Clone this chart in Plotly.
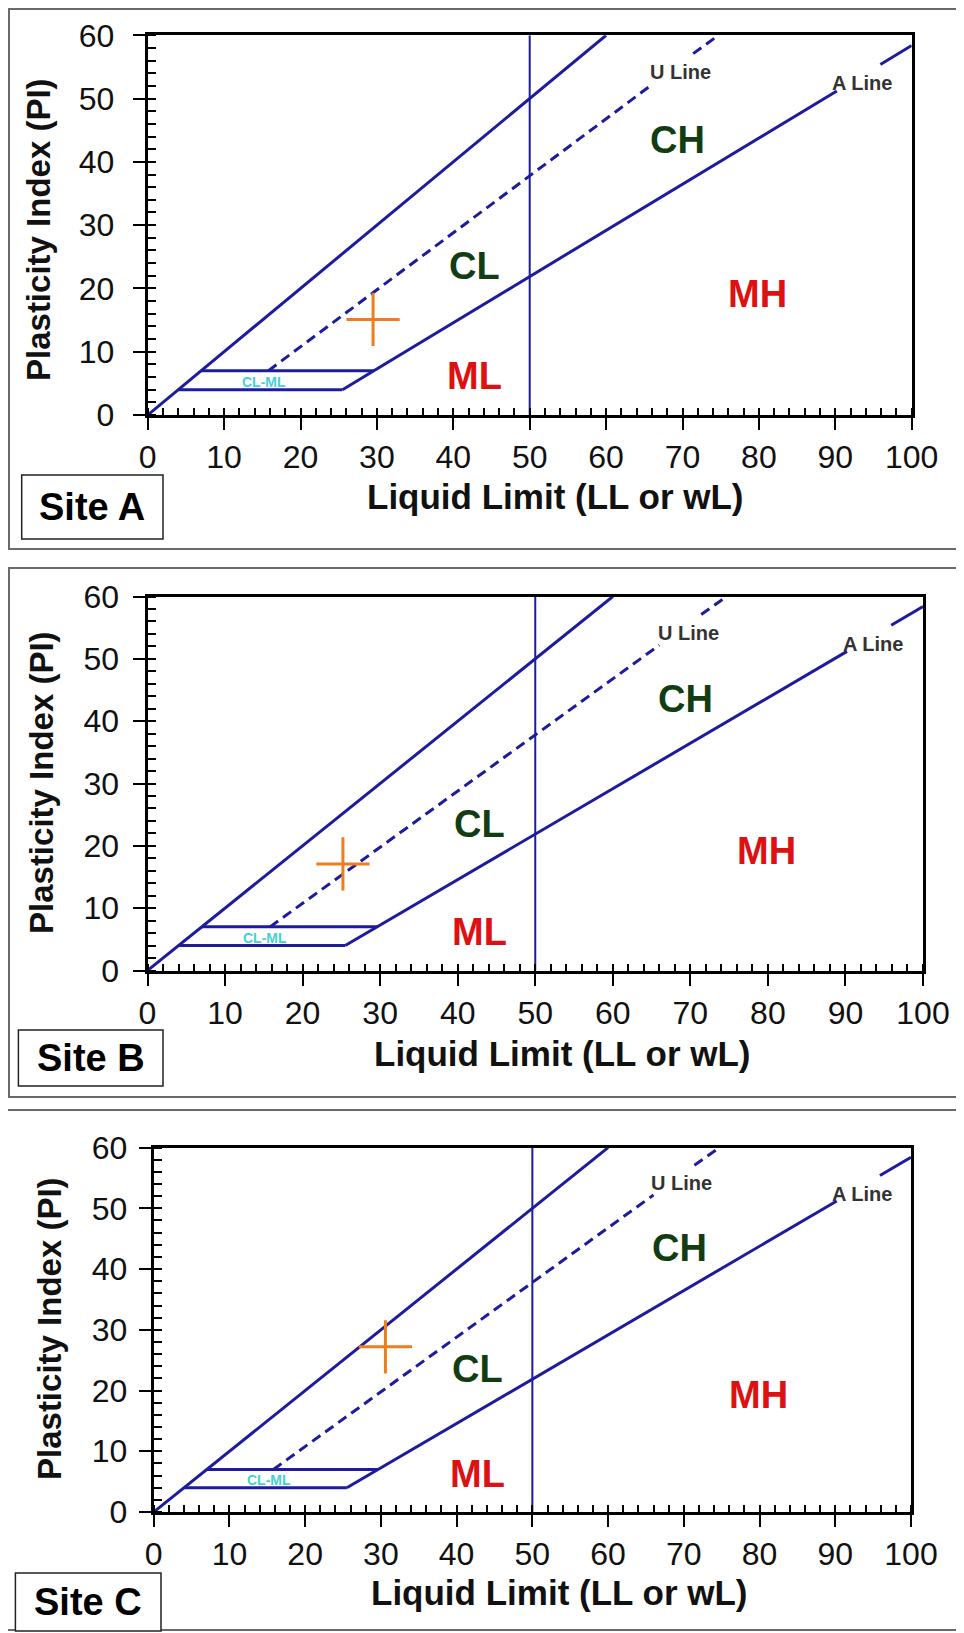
import plotly.graph_objects as go

# ---------------- data ----------------
SITES = ["Site A", "Site B", "Site C"]
SAMPLE_LL = [29.5, 25.2, 30.6]
SAMPLE_PI = [15.1, 17.1, 27.2]

LL_TICKS = [0, 10, 20, 30, 40, 50, 60, 70, 80, 90, 100]
PI_TICKS = [0, 10, 20, 30, 40, 50, 60]

UPPER_LL = [0, 60]
UPPER_PI = [0, 60]
A_LINE_LL = [25.5, 29.6, 90.2]
A_LINE_PI = [4.0, 7.0, 51.2]
A_LINE_END_LL = [95.9, 100]
A_LINE_END_PI = [55.4, 58.4]
U_LINE_LL = [15.8, 66.0]
U_LINE_PI = [7.0, 52.2]
U_LINE_END_LL = [71.4, 74.7]
U_LINE_END_PI = [57.1, 60.0]
CLML_LOW_LL = [4.0, 25.5]
CLML_LOW_PI = [4.0, 4.0]
CLML_HIGH_LL = [7.0, 29.6]
CLML_HIGH_PI = [7.0, 7.0]
LL50_LL = [50, 50]
LL50_PI = [0, 60]

ZONE_NAMES = ["CL", "CH", "ML", "MH"]
ZONE_LL = [42.8, 69.4, 42.8, 79.8]
ZONE_PI = [23.5, 43.5, 6.2, 19.2]
ZONE_COLORS = ["#123d12", "#123d12", "#dd1111", "#dd1111"]

LINE_NAMES = ["U Line", "A Line"]
LINE_LL = [69.7, 93.5]
LINE_PI = [54.2, 52.4]

CLML_NAME = "CL-ML"
CLML_LL = 15.2
CLML_PI = 5.2

X_TITLE = "Liquid Limit (LL or wL)"
Y_TITLE = "Plasticity Index (PI)"

# ---------------- layout geometry (window pixels) ----------------
WIN_W, WIN_H = 964, 1633
OFF = 8  # default page margin around the plot div
W, H = WIN_W - OFF, WIN_H - OFF
PLOTS = [  # left, right, top, bottom
    (147.7, 911.7, 35.3, 415.0),
    (147.5, 923.0, 596.5, 970.5),
    (153.7, 911.0, 1147.6, 1512.0),
]
FRAMES = [(9, 970, 9, 549), (9, 970, 568, 1097), (6, 970, 1110, 1630)]
SITE_BOXES = [(21.7, 163, 475, 539), (18.4, 163, 1030, 1086), (15.4, 161, 1573, 1631)]
XTITLE_POS = [(555, 497), (562, 1053), (559, 1592)]
YTITLE_POS = [(39, 230), (41, 783), (49, 1329)]
Y_STANDOFF = [12, 7, 5]

NAVY = "#1c1c9c"
ORANGE = "#ee7d1e"
FONT = "Liberation Sans"


def px(x):
    return (x - OFF) / W


def py(y):
    return 1 - (y - OFF) / H


fig = go.Figure()
annotations = []
shapes = []

for i, site in enumerate(SITES):
    s = "" if i == 0 else str(i + 1)
    xa, ya = "x" + s, "y" + s
    l, r, t, b = PLOTS[i]

    def line(xs, ys, width=3, dash=None):
        fig.add_trace(go.Scatter(
            x=xs, y=ys, xaxis=xa, yaxis=ya, mode="lines",
            line=dict(color=NAVY, width=width, dash=dash),
            hoverinfo="skip", showlegend=False))

    line(UPPER_LL, UPPER_PI)
    line(A_LINE_LL, A_LINE_PI)
    line(A_LINE_END_LL, A_LINE_END_PI)
    line(U_LINE_LL, U_LINE_PI, dash="10px,6px")
    line(U_LINE_END_LL, U_LINE_END_PI, dash="10px,6px")
    line(CLML_LOW_LL, CLML_LOW_PI)
    line(CLML_HIGH_LL, CLML_HIGH_PI)
    line(LL50_LL, LL50_PI, width=2)

    fig.add_trace(go.Scatter(
        x=[SAMPLE_LL[i]], y=[SAMPLE_PI[i]], xaxis=xa, yaxis=ya, mode="markers",
        marker=dict(symbol="cross-thin", size=38, line=dict(color=ORANGE, width=3)),
        name=site, showlegend=False))

    axis_common = dict(
        showgrid=False, zeroline=False, showline=True, linecolor="black",
        linewidth=3, mirror=True, ticks="outside", ticklen=12, tickwidth=2,
        tickcolor="black", tickfont=dict(family=FONT, size=32, color="#111"),
        automargin=False,
    )
    fig.update_layout(**{
        "xaxis" + s: dict(
            axis_common, domain=[px(l), px(r)], anchor=ya, range=[0, 100],
            tickvals=LL_TICKS, ticklabelstandoff=0,
            minor=dict(dtick=2, ticks="inside", ticklen=7, tickwidth=2, tickcolor="black"),
        ),
        "yaxis" + s: dict(
            axis_common, domain=[py(b), py(t)], anchor=xa, range=[0, 60],
            tickvals=PI_TICKS, ticklabelstandoff=Y_STANDOFF[i],
            minor=dict(dtick=2, ticks="inside", ticklen=8, tickwidth=2, tickcolor="black"),
        ),
    })

    for name, xv, yv, col in zip(ZONE_NAMES, ZONE_LL, ZONE_PI, ZONE_COLORS):
        annotations.append(dict(
            x=xv, y=yv, xref=xa, yref=ya, text="<b>%s</b>" % name, showarrow=False,
            font=dict(family=FONT, size=38, color=col)))
    for name, xv, yv in zip(LINE_NAMES, LINE_LL, LINE_PI):
        annotations.append(dict(
            x=xv, y=yv, xref=xa, yref=ya, text="<b>%s</b>" % name, showarrow=False,
            font=dict(family=FONT, size=20, color="#333333")))
    annotations.append(dict(
        x=CLML_LL, y=CLML_PI, xref=xa, yref=ya, text="<b>%s</b>" % CLML_NAME,
        showarrow=False, font=dict(family=FONT, size=14, color="#45d0d8")))

    # axis titles
    tx, ty = XTITLE_POS[i]
    annotations.append(dict(
        x=px(tx), y=py(ty), xref="paper", yref="paper", text="<b>%s</b>" % X_TITLE,
        showarrow=False, xanchor="center", yanchor="middle",
        font=dict(family=FONT, size=35, color="#111")))
    tx, ty = YTITLE_POS[i]
    annotations.append(dict(
        x=px(tx), y=py(ty), xref="paper", yref="paper", text="<b>%s</b>" % Y_TITLE,
        showarrow=False, textangle=-90, xanchor="center", yanchor="middle",
        font=dict(family=FONT, size=33, color="#111")))

    # outer frame
    fl, fr, ft, fb = FRAMES[i]
    shapes.append(dict(type="rect", xref="paper", yref="paper",
                       x0=px(fl), x1=px(fr), y0=py(fb), y1=py(ft),
                       line=dict(color="#6a6a6a", width=2), layer="below"))
    # site label box
    bl, br, bt, bb = SITE_BOXES[i]
    shapes.append(dict(type="rect", xref="paper", yref="paper",
                       x0=px(bl), x1=px(br), y0=py(bb), y1=py(bt),
                       line=dict(color="#222", width=1.5), fillcolor="white"))
    annotations.append(dict(
        x=px((bl + br) / 2), y=py((bt + bb) / 2), xref="paper", yref="paper",
        text="<b>%s</b>" % site, showarrow=False, xanchor="center", yanchor="middle",
        font=dict(family=FONT, size=38, color="black")))

fig.update_layout(
    width=W, height=H, margin=dict(l=0, r=0, t=0, b=0, pad=0, autoexpand=False),
    paper_bgcolor="white", plot_bgcolor="white",
    annotations=annotations, shapes=shapes, showlegend=False,
)

fig.write_html("out.html")
